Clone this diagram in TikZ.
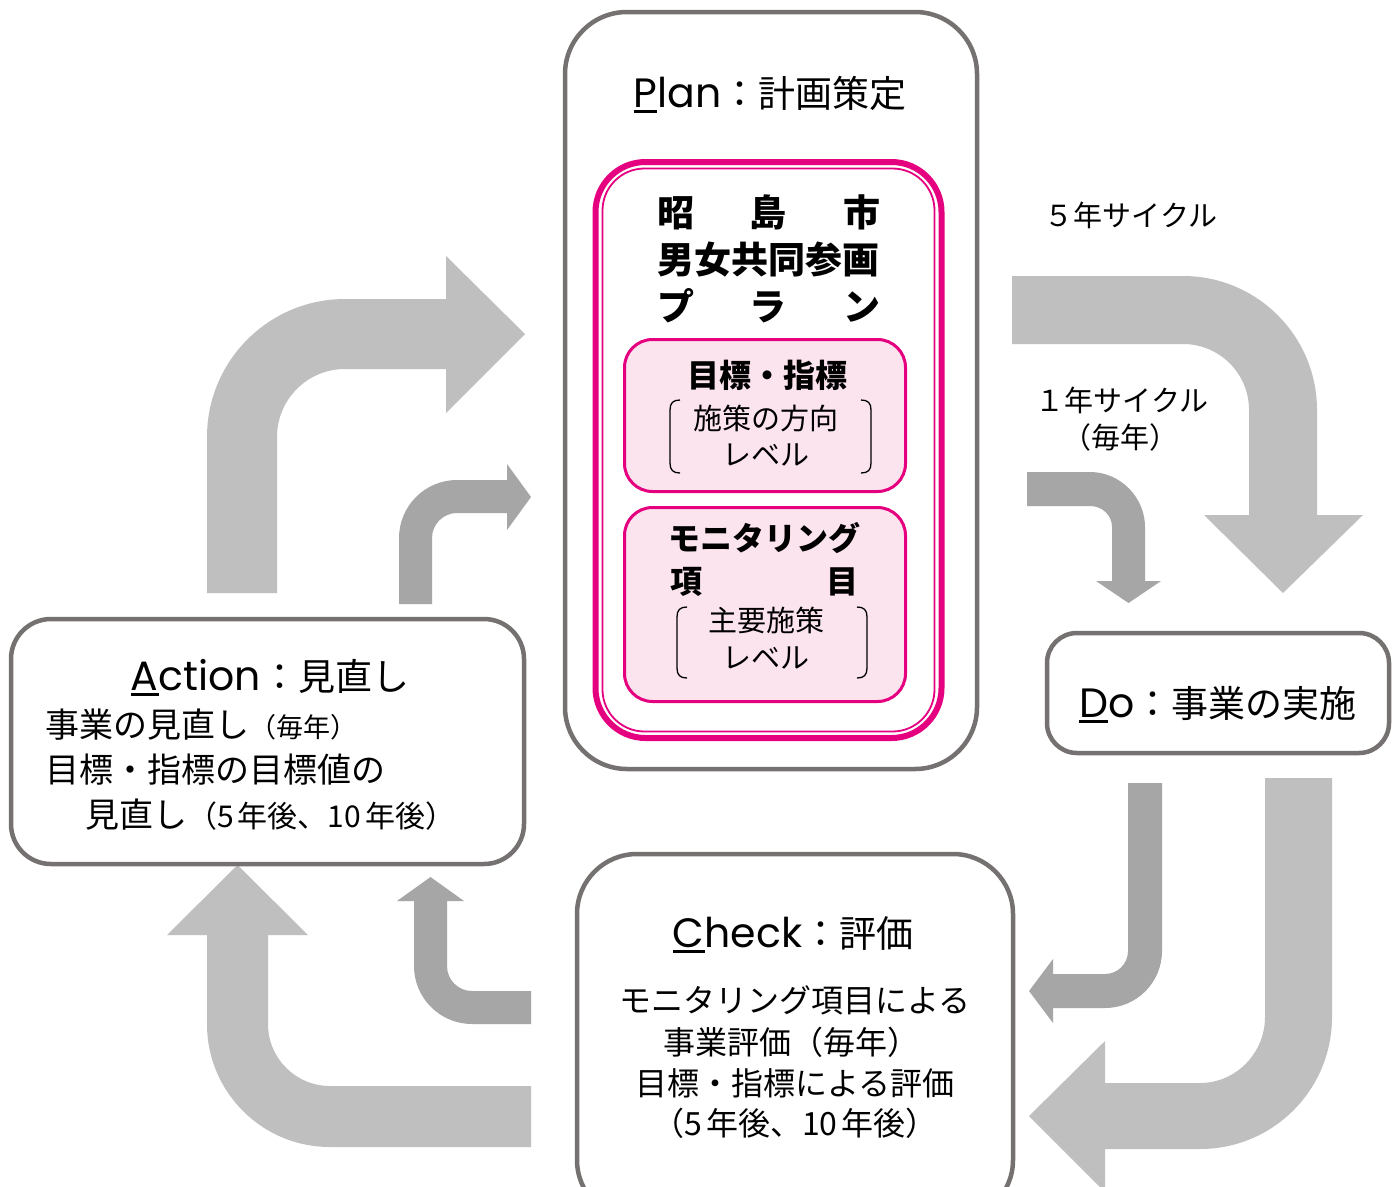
\documentclass[tikz,border=0pt]{standalone}
\usepackage{fontspec}
\setmainfont{Noto Sans CJK JP}
\newfontfamily\lat{Poppins}
\definecolor{boxgray}{HTML}{767171}
\definecolor{pinkline}{HTML}{E4007F}
\definecolor{pinkfill}{HTML}{FCE4EF}
\definecolor{arrlight}{HTML}{BFBFBF}
\definecolor{arrdark}{HTML}{A6A6A6}
\newcommand\firstul[1]{\vtop{\hbox{#1}\kern3pt\hrule height 3pt}}
\newcommand\fsz[1]{\fontsize{#1}{#1}\selectfont}
\begin{document}
\begin{tikzpicture}[x=1pt,y=-1pt,
  gbox/.style={draw=boxgray, line width=4.5pt, fill=white, inner sep=0pt},
  pbox/.style={draw=pinkline, line width=3pt, fill=pinkfill, rounded corners=28pt, inner sep=0pt},
  pinkframe/.style={draw=pinkline, inner sep=0pt},
  lightarrow/.style={fill=arrlight},
  darkarrow/.style={fill=arrdark},
  bracket/.style={draw=black, line width=1.3pt},
  lbl/.style={inner sep=0pt, text=black},
  hd/.style={lbl, font=\bfseries},
]
\useasboundingbox (0,0) rectangle (1399,1186);
\clip (0,0) rectangle (1399,1186);
\fill[white] (0,0) rectangle (1399,1186);

% ---- block arrows ----
% Plan -> Do (5 years)
\fill[lightarrow] (1012,276) -- (1183,276) .. controls (1257,276) and (1317,336) .. (1317,410) -- (1317,515) -- (1363,515) -- (1283,593) -- (1204,515) -- (1249,515) -- (1249,410) .. controls (1249,373.5) and (1219.5,344) .. (1183,344) -- (1012,344) -- cycle;
% Plan -> Do (1 year)
\fill[darkarrow] (1027,472) -- (1090,472) .. controls (1120,472) and (1145,497) .. (1145,527) -- (1145,581) -- (1161,581) -- (1128.5,603) -- (1096,581) -- (1112,581) -- (1112,527) .. controls (1112,515) and (1102,506) .. (1090,506) -- (1027,506) -- cycle;
% Do -> Check (big)
\fill[lightarrow] (1265,778) -- (1332,778) -- (1332,1017) .. controls (1332,1090) and (1273,1149) .. (1200,1149) -- (1105,1149) -- (1105,1192) -- (1029,1116) -- (1105,1041) -- (1105,1083) -- (1200,1083) .. controls (1236,1083) and (1265,1053) .. (1265,1017) -- cycle;
% Do -> Check (small)
\fill[darkarrow] (1128,783) -- (1162,783) -- (1162,951) .. controls (1162,982.5) and (1136.5,1008) .. (1105,1008) -- (1053,1008) -- (1053,1023) -- (1029,991) -- (1053,959) -- (1053,974) -- (1105,974) .. controls (1117.7,974) and (1128,963.7) .. (1128,951) -- cycle;
% Check -> Action (big)
\fill[lightarrow] (531,1086) -- (330,1086) .. controls (295.8,1086) and (268,1058.2) .. (268,1024) -- (268,935) -- (308,935) -- (237.5,865) -- (167,935) -- (207,935) -- (207,1024) .. controls (207,1092) and (262,1147) .. (330,1147) -- (531,1147) -- cycle;
% Check -> Action (small)
\fill[darkarrow] (531,991) -- (472,991) .. controls (458.2,991) and (447,979.8) .. (447,966) -- (447,901) -- (464,901) -- (430.5,877) -- (397,901) -- (414,901) -- (414,966) .. controls (414,998) and (440,1024) .. (472,1024) -- (531,1024) -- cycle;
% Action -> Plan (big)
\fill[lightarrow] (207,593) -- (207,437) .. controls (207,360.8) and (268.8,299) .. (345,299) -- (446,299) -- (446,256) -- (525,334) -- (446,413) -- (446,369) -- (345,369) .. controls (307.4,369) and (277,399.4) .. (277,437) -- (277,593) -- cycle;
% Action -> Plan (small)
\fill[darkarrow] (399,604) -- (399,538) .. controls (399,506) and (425,480) .. (457,480) -- (507,480) -- (507,464) -- (531,497) -- (507,530) -- (507,513) -- (457,513) .. controls (443.2,513) and (432,524.2) .. (432,538) -- (432,604) -- cycle;

% ---- boxes ----
\node[gbox, rounded corners=62pt, minimum width=412pt, minimum height=757pt] (plan) at (771,390.5) {};
\node[pinkframe, line width=6pt, rounded corners=50pt, minimum width=346pt, minimum height=576pt] (pinkout) at (768.5,450) {};
\node[pinkframe, line width=1.8pt, rounded corners=42pt, minimum width=332pt, minimum height=563pt] (pinkin) at (768.5,450) {};
\node[pbox, minimum width=281pt, minimum height=152pt] (goal) at (765,415.5) {};
\node[pbox, minimum width=281pt, minimum height=194pt] (mon) at (765,604.5) {};
\node[gbox, rounded corners=40pt, minimum width=513pt, minimum height=245pt] (action) at (267.5,741.5) {};
\node[gbox, rounded corners=30pt, minimum width=342pt, minimum height=120pt] (do) at (1218,693) {};
\node[gbox, rounded corners=60pt, minimum width=436pt, minimum height=366pt] (check) at (795,1037) {};

% ---- titles ----
\node[lbl, anchor=base] (plantitle) at (770,107) {\fsz{37}{\lat\fsz{41}\firstul{P}lan}：計画策定};
\node[lbl, anchor=base] (actiontitle) at (270,690) {\fsz{37}{\lat\fsz{41}\firstul{A}ction}：見直し};
\node[lbl, anchor=base] (dotitle) at (1218,717) {\fsz{37}{\lat\fsz{41}\firstul{D}o}：事業の実施};
\node[lbl, anchor=base] (checktitle) at (793,947) {\fsz{37}{\lat\fsz{41}\firstul{C}heck}：評価};

% ---- plan contents ----
\node[hd] (r1) at (768.5,212) {\fsz{37}\makebox[223pt]{昭\hfill 島\hfill 市}};
\node[hd] (r2) at (768.5,260) {\fsz{37}男女共同参画};
\node[hd] (r3) at (768.5,306) {\fsz{37}\makebox[223pt]{プ\hfill ラ\hfill ン}};
\node[hd] (g1) at (767,375) {\fsz{32}目標・指標};
\node[lbl] (g2) at (766,418) {\fsz{29}施策の方向};
\node[lbl] (g3) at (766,455) {\fsz{29}レベル};
\node[hd] (m1) at (764,538) {\fsz{32}モニタリング};
\node[hd] (m2) at (764,582) {\fsz{32}\makebox[188pt]{項\hfill 目}};
\node[lbl] (m3) at (766,620) {\fsz{29}主要施策};
\node[lbl] (m4) at (766,658) {\fsz{29}レベル};

\draw[bracket] (680,400) .. controls (673,400) and (670,403) .. (670,410) -- (670,463) .. controls (670,470) and (673,473) .. (680,473);
\draw[bracket] (861,400) .. controls (868,400) and (871,403) .. (871,410) -- (871,463) .. controls (871,470) and (868,473) .. (861,473);
\draw[bracket] (687,607) .. controls (680,607) and (677,610) .. (677,617) -- (677,668) .. controls (677,675) and (680,678) .. (687,678);
\draw[bracket] (857,607) .. controls (864,607) and (867,610) .. (867,617) -- (867,668) .. controls (867,675) and (864,678) .. (857,678);

% ---- cycle labels ----
\node[lbl] (cyc5) at (1131,215) {\fsz{29}５年サイクル};
\node[lbl] (cyc1) at (1122,400) {\fsz{29}１年サイクル};
\node[lbl] (cyc1b) at (1120,437) {\fsz{29}（毎年）};

% ---- action contents ----
\node[lbl, anchor=west] (a1) at (45,725) {\fsz{34}事業の見直し{\fsz{27}（毎年）}};
\node[lbl, anchor=west] (a2) at (45,770) {\fsz{34}目標・指標の目標値の};
\node[lbl, anchor=west] (a3) at (85,815) {\fsz{34}見直し{\fsz{30}（5\kern4pt 年後、10\kern4pt 年後）}};

% ---- check contents ----
\node[lbl] (k1) at (795,1000) {\fsz{32}モニタリング項目による};
\node[lbl] (k2) at (791,1042) {\fsz{32}事業評価（毎年）};
\node[lbl] (k3) at (795,1083) {\fsz{32}目標・指標による評価};
\node[lbl] (k4) at (795,1123) {\fsz{32}（5\kern4pt 年後、10\kern4pt 年後）};
\end{tikzpicture}
\end{document}
